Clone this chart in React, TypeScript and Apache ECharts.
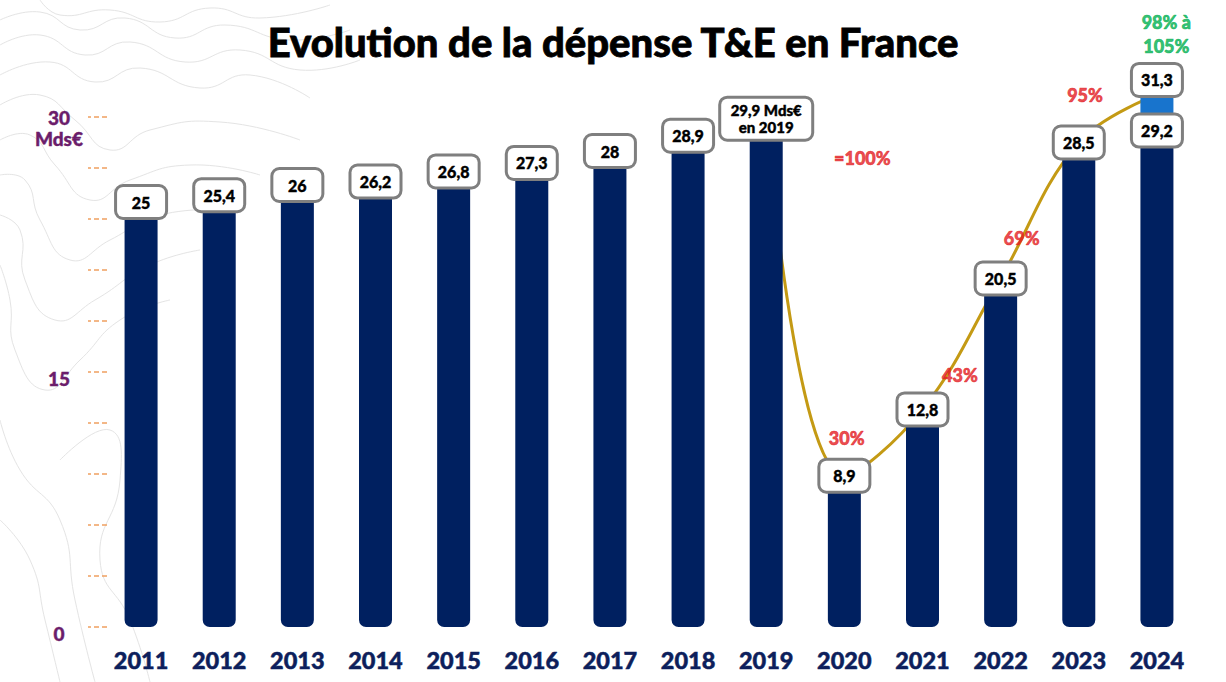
import { useEffect, useRef } from "react";
import * as echarts from "echarts";

// Yearly T&E spend in France (billions of euros)
const years = ["2011", "2012", "2013", "2014", "2015", "2016", "2017", "2018", "2019", "2020", "2021", "2022", "2023", "2024"];
const spend = [25, 25.4, 26, 26.2, 26.8, 27.3, 28, 28.9, 29.9, 8.9, 12.8, 20.5, 28.5, 29.2];
// Upper bound of the 2024 outlook
const outlookHigh = 31.3;
// Recovery curve, relative to the 2019 level
const recovery = [null, null, null, null, null, null, null, null, 29.9, 8.9, 12.8, 20.5, 28.5, 31.3];
const shareTexts = ["=100%", "30%", "43%", "69%", "95%"];
const shareAt = [[9.23, 27.6], [9.03, 11.1], [10.48, 14.8], [11.27, 22.9], [12.08, 31.3]];
const outlookText = "98% à\n105%";
const outlookAt = [13.12, 34.9];
const yLabelled = [0, 15, 30];
const unit = "Mds€";

const FONT = "Lato, 'Open Sans', sans-serif";
const NAVY = "#002060";
const PURPLE = "#6b1d6b";
const RED = "#e31c23";
const GREEN = "#00b050";
const HEAVY = 900;

const fmt = (v: number) => String(v).replace(".", ",");

const boxLabel = {
  show: true,
  backgroundColor: "#ffffff",
  borderColor: "#7f7f7f",
  borderWidth: 3,
  borderRadius: 6,
  width: 34,
  padding: [6, 7],
  lineHeight: 18,
  color: "#000",
  textBorderColor: "#000",
  textBorderWidth: 0.4,
  fontWeight: HEAVY,
  fontSize: 16,
  fontFamily: FONT,
  align: "center" as const,
};

// faint contour decoration in the background
const contours = [
  [[40, 0], [60, 15], [110, 10], [160, 22], [210, 8], [260, 18], [330, 5]],
  [[0, 20], [40, 12], [80, 30], [125, 18], [175, 38], [225, 25], [290, 40], [350, 30]],
  [[0, 45], [40, 35], [85, 55], [130, 42], [185, 62], [240, 50], [300, 70], [360, 60]],
  [[0, 75], [50, 62], [95, 82], [140, 68], [200, 88], [250, 75], [310, 98]],
  [[0, 105], [40, 95], [75, 120], [110, 150], [150, 130], [220, 122], [300, 140]],
  [[0, 140], [30, 135], [55, 165], [90, 200], [130, 180], [190, 165], [260, 175]],
  [[0, 175], [25, 180], [40, 220], [70, 260], [110, 240], [160, 215], [230, 210]],
  [[0, 215], [20, 230], [25, 280], [55, 320], [95, 300], [150, 265], [200, 250]],
  [[0, 265], [10, 300], [15, 350], [45, 390], [80, 360], [120, 320], [170, 300]],
  [[0, 420], [20, 470], [60, 520], [75, 600], [95, 682]],
  [[0, 520], [30, 560], [45, 620], [60, 682]],
  [[60, 460], [110, 430], [120, 480], [100, 560], [130, 620], [150, 682]],
];

export default function App() {
  const ref = useRef<HTMLDivElement>(null);

  useEffect(() => {
    if (!ref.current) return;
    const chart = echarts.init(ref.current, null, { renderer: "svg" });

    const lastIdx = spend.length - 1;
    const upper = spend.map((_, i) => (i === lastIdx ? +(outlookHigh - spend[i]).toFixed(2) : "-"));

    const yText = {
      color: PURPLE,
      textBorderColor: PURPLE,
      textBorderWidth: 0.4,
      fontSize: 19,
      fontWeight: HEAVY,
      fontFamily: FONT,
      lineHeight: 21,
    };

    chart.setOption({
      animation: false,
      backgroundColor: "#ffffff",
      title: {
        text: "Evolution de la dépense T&E en France",
        left: "center",
        top: 17,
        textStyle: {
          fontSize: 40,
          fontWeight: HEAVY,
          color: "#000",
          textBorderColor: "#000",
          textBorderWidth: 0.8,
          fontFamily: FONT,
        },
      },
      graphic: contours.map((pts) => ({
        type: "polyline",
        silent: true,
        z: -10,
        shape: { points: pts, smooth: 0.5 },
        style: { stroke: "#e4e4e4", lineWidth: 1, fill: null },
      })),
      grid: { left: 102, right: 30, top: 117, bottom: 55, containLabel: false },
      xAxis: [
        {
          type: "category",
          data: years,
          axisLine: { show: false },
          axisTick: { show: false },
          axisLabel: {
            color: "#0d1f5c",
            textBorderColor: "#0d1f5c",
            textBorderWidth: 0.5,
            fontSize: 23.5,
            fontWeight: HEAVY,
            fontFamily: FONT,
            margin: 21,
          },
        },
        { type: "value", min: -0.5, max: 13.5, show: false },
      ],
      yAxis: {
        type: "value",
        min: 0,
        max: 30,
        interval: 3,
        offset: -5,
        axisLine: { show: false, onZero: false },
        splitLine: { show: false },
        axisTick: {
          show: true,
          inside: false,
          length: 19,
          lineStyle: { color: "#f0a060", width: 1.5, type: [5, 3] },
        },
        axisLabel: {
          align: "center",
          margin: 48,
          formatter: (v: number) => {
            if (!yLabelled.includes(v)) return "";
            if (v === 30) return `{g| }\n{t|${v}}\n{t|${unit}}`;
            return `{s|${v}}`;
          },
          rich: {
            g: { ...yText },
            t: { ...yText },
            s: { ...yText, padding: [12, 0, 0, 0] },
          },
        },
      },
      series: [
        {
          type: "line",
          data: recovery,
          smooth: 0.4,
          symbol: "none",
          z: 1,
          clip: false,
          lineStyle: { color: "#c49a14", width: 3 },
        },
        {
          type: "bar",
          stack: "total",
          barWidth: 33,
          z: 3,
          clip: false,
          data: spend.map((v, i) =>
            i === 8
              ? { value: v, label: { formatter: `${fmt(v)} ${unit}\nen ${years[i]}`, width: 76, padding: [3, 7], lineHeight: 17, fontSize: 15 } }
              : v
          ),
          itemStyle: { color: NAVY, borderRadius: [0, 0, 7, 7] },
          label: {
            ...boxLabel,
            position: ["50%", 0],
            verticalAlign: "middle",
            formatter: (p: any) => fmt(p.value),
          },
        },
        {
          type: "bar",
          stack: "total",
          barWidth: 33,
          z: 3,
          clip: false,
          data: upper,
          itemStyle: { color: "#1874cd" },
          label: {
            ...boxLabel,
            position: "top",
            distance: 0,
            formatter: () => fmt(outlookHigh),
          },
        },
        {
          type: "scatter",
          xAxisIndex: 1,
          symbolSize: 0,
          z: 5,
          clip: false,
          silent: true,
          data: [
            ...shareTexts.map((t, i) => ({ name: t, value: shareAt[i] })),
            {
              name: outlookText,
              value: outlookAt,
              label: { color: GREEN, textBorderColor: GREEN, lineHeight: 24 },
            },
          ],
          label: {
            show: true,
            position: "inside",
            formatter: (p: any) => p.name,
            color: RED,
            textBorderColor: RED,
            textBorderWidth: 0.6,
            fontSize: 18,
            fontWeight: HEAVY,
            fontFamily: FONT,
            align: "center",
          },
        },
      ],
    });

    return () => chart.dispose();
  }, []);

  return (
    <div
      ref={ref}
      style={{ position: "fixed", left: 0, top: 0, width: 1226, height: 682, background: "#fff" }}
    />
  );
}
